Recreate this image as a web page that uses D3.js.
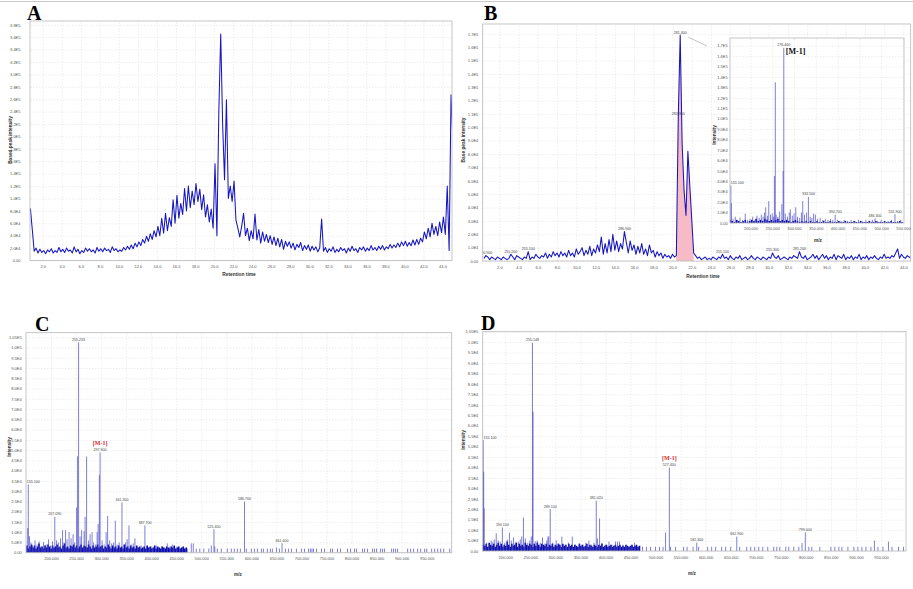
<!DOCTYPE html>
<html>
<head>
<meta charset="utf-8">
<script src="https://cdn.jsdelivr.net/npm/d3@7"></script>
<style>
body { margin: 0; background: #fff; }
svg { display: block; }
.axis text { font-family: "Liberation Sans", Arial, sans-serif; font-size: 4px; fill: #555; }
.axis line { stroke: none; }
.grid line { stroke: #dcdcdc; stroke-width: 0.5; stroke-dasharray: 1.5 1.5; }
.axis-title { font-family: "Liberation Sans", Arial, sans-serif; font-size: 4.8px; font-weight: bold; fill: #333; }
.peak-label { font-family: "Liberation Sans", Arial, sans-serif; font-size: 3.6px; fill: #444; }
.mark-label { font-family: "Liberation Serif", "Times New Roman", serif; font-size: 6px; font-weight: bold; fill: #d42a2a; }
.panel-letter { font-family: "Liberation Serif", "Times New Roman", serif; font-size: 20px; font-weight: bold; fill: #000; }
.trace { fill: none; stroke: #1616c0; stroke-width: 1.05; stroke-linejoin: round; }
.stick { stroke: #3535c0; stroke-width: 0.8; stroke-opacity: 0.8; }
.noise { stroke: #0c0caa; stroke-width: 1.6; }
</style>
</head>
<body>
<div id="chart"></div>
<script>
// ---------- data ----------

// A: base peak chromatogram, one sample every 0.2 min from 0.7 min (intensity x1e4)
var chromAStart = 0.7, chromAStep = 0.2;
var chromA = [
  8.4,5.0,1.5,2.0,1.2,1.8,1.3,1.6,1.1,1.7,
  1.4,1.9,1.2,1.6,1.3,2.1,1.4,1.8,1.3,2.0,
  1.5,1.7,1.2,2.2,1.4,1.8,1.1,1.6,1.3,2.0,
  1.5,1.9,1.4,1.7,1.2,2.1,1.5,1.9,1.4,2.0,
  1.6,1.8,1.3,2.2,1.6,1.9,1.4,1.7,1.5,2.1,
  1.7,2.3,1.8,2.5,1.9,2.8,2.2,3.0,2.4,3.4,
  2.8,3.9,3.1,4.3,3.4,4.8,3.8,5.5,4.0,6.8,
  4.4,7.6,4.8,6.9,5.5,9.8,6.0,10.5,6.8,9.2,
  7.4,11.6,8.0,12.0,8.5,11.2,9.0,12.4,9.5,11.5,
  8.2,10.6,7.0,9.0,6.2,8.3,5.2,15.6,4.0,24.0,
  36.5,22.0,13.0,25.9,10.0,12.0,9.5,12.8,6.5,5.2,
  3.8,5.5,7.6,4.0,5.2,3.2,4.8,3.5,7.5,3.3,
  5.0,2.8,4.6,3.1,4.2,2.9,4.0,2.6,3.8,2.4,
  3.6,2.2,3.4,1.8,3.1,2.3,3.0,2.0,2.8,1.7,
  2.6,2.1,2.9,1.6,2.4,1.8,2.5,1.5,2.3,1.7,
  2.2,1.4,2.0,6.7,1.5,2.1,1.3,1.9,1.5,2.2,
  1.3,1.8,1.4,2.1,1.6,1.9,1.2,2.0,1.5,2.3,
  1.6,1.9,1.3,2.1,1.7,2.2,1.5,2.0,1.6,2.4,
  1.7,2.1,1.6,2.3,1.8,2.4,1.7,2.2,1.9,2.6,
  2.0,2.5,2.1,2.8,2.2,3.0,2.4,3.1,2.3,2.9,
  2.4,3.3,2.5,3.4,2.6,3.6,3.0,4.6,3.5,5.2,
  3.8,6.0,4.2,5.5,4.0,6.2,4.5,7.0,4.2,12.0,
  1.6,26.7,19.0
];

// B: base peak chromatogram, one sample every 0.2 min from 0.4 min (intensity x1e4)
var chromBStart = 0.4, chromBStep = 0.2;
var chromB = [
  0.2,0.4,0.3,0.1,0.3,0.2,0.1,0.3,0.2,0.1,
  0.3,0.2,0.1,0.2,0.5,0.3,0.1,0.4,0.3,0.2,
  0.1,0.3,0.2,0.7,0.1,0.3,0.2,0.5,0.3,0.2,
  0.4,0.3,0.6,0.2,0.5,0.3,0.7,0.4,0.6,0.3,
  0.7,0.4,0.6,0.3,0.8,0.4,0.6,0.3,0.9,0.5,
  0.7,1.0,0.4,0.8,0.5,1.1,0.4,0.9,0.6,1.2,
  0.7,1.8,0.5,1.3,0.6,1.6,0.7,2.0,0.8,1.5,
  0.7,1.3,0.9,2.2,1.4,0.6,1.5,0.8,1.2,0.5,
  1.1,0.6,1.3,0.5,0.9,0.4,1.2,0.6,0.8,0.3,
  0.7,0.4,0.6,0.2,0.5,0.3,0.4,0.2,0.5,0.3,
  0.4,10.8,16.9,8.8,5.3,3.4,8.2,5.6,3.1,0.6,
  0.4,0.2,0.3,0.1,0.2,0.3,0.1,0.2,0.1,0.3,
  0.2,0.1,0.3,0.2,0.5,0.2,0.3,0.1,0.4,0.2,
  0.1,0.3,0.2,0.4,0.1,0.2,0.3,0.1,0.2,0.4,
  0.2,0.1,0.3,0.2,0.1,0.3,0.2,0.1,0.3,0.2,
  0.6,0.3,0.2,0.4,0.1,0.2,0.3,0.2,0.1,0.3,
  0.2,0.4,0.3,0.2,0.7,0.3,0.2,0.4,0.1,0.2,
  0.3,0.5,0.2,0.4,0.1,0.3,0.5,0.2,0.4,0.1,
  0.3,0.2,0.5,0.1,0.4,0.3,0.2,0.5,0.1,0.3,
  0.2,0.4,0.1,0.3,0.2,0.5,0.1,0.3,0.2,0.4,
  0.1,0.3,0.2,0.4,0.2,0.1,0.3,0.2,0.5,0.2,
  0.3,0.2,0.4,0.3,0.6,0.9,0.2,0.5,0.3,0.2,
  0.4,0.3,0.2
];
// integrated (highlighted) window of the main peak, min
var peakWindowB = [20.4, 22.2];
// labelled peaks of B: [time, m/z label]
var labelsB = [
  [0.6, "190.900"], [3.2, "255.200"], [5.0, "255.100"], [15.0, "286.900"],
  [20.8, "281.300"], [20.6, "283.300"], [25.2, "255.100"], [30.4, "255.300"], [33.2, "281.200"]
];

// B inset: mass spectrum of the main peak [m/z, intensity x1e4]
var peaksInset = [
  [155,3.6],[156,1.9],[160,0.4],[165,0.6],[170,0.3],[176,0.5],[182,0.3],[188,0.9],[193,0.3],[199,0.4],
  [205,0.6],[210,0.3],[215,0.7],[220,0.5],[225,0.8],[229,0.6],[232,1.0],[235,1.5],[239,0.7],[242,2.1],
  [246,0.8],[250,0.9],[253,0.6],[255,4.5],[257,13.5],[259,0.8],[263,0.6],[267,1.1],[272,1.8],[275,5.0],
  [276.5,16.8],[280,0.9],[285,0.6],[289,1.0],[291.5,1.3],[296,0.7],[300,0.9],[304,1.5],[308,0.6],[313,0.5],
  [317,1.0],[320,2.1],[324,0.8],[329,1.0],[333,2.5],[337,0.6],[341,0.5],[345,0.9],[349,0.8],[354,0.4],
  [360,0.5],[366,0.3],[372,0.4],[378,0.3],[384,0.4],[389,0.3],[394.5,0.8],[400,0.3],[408,0.2],[415,0.3],
  [423,0.2],[431,0.3],[440,0.2],[448,0.3],[456,0.2],[465,0.3],[472,0.2],[480,0.3],[486,0.45],[492,0.2],
  [500,0.3],[508,0.2],[516,0.2],[524,0.3],[531.7,0.85],[538,0.2],[545,0.3]
];
// low level signal of the inset, every 5 m/z from 153 (x1e4)
var noiseInsetStart = 153, noiseInsetStep = 5;
var noiseInset = [
  0.3,0.2,0.1,0.3,0.2,0.1,0.2,0.3,0.1,0.2,
  0.3,0.2,0.4,0.2,0.3,0.2,0.4,0.3,0.2,0.3,
  0.2,0.3,0.4,0.2,0.3,0.2,0.3,0.2,0.1,0.2,
  0.3,0.2,0.1,0.2,0.1,0.2,0.1,0.2,0.1,0.1,
  0.2,0.1,0.1,0.2,0.1,0.1,0.2,0.1,0.1,0.1,
  0.2,0.1,0.1,0.2,0.1,0.1,0.1,0.2,0.1,0.1,
  0.2,0.1,0.1,0.1,0.2,0.1,0.1,0.2,0.1,0.1,
  0.1,0.2,0.1,0.1,0.2,0.1,0.1,0.1,0.2,0.1
];
var labelsInset = [[155,"155.100"],[276.5,"276.400"],[333,"333.500"],[394.5,"394.700"],[486,"486.300"],[531.7,"531.900"]];
var markInset = [276.5, "[M-1]"];

// C: mass spectrum [m/z, intensity x1e3]
var peaksC = [
  [153.5,12],[154.6,33.3],[157,8],[160,5],[163,3.5],[168,6],[172,4],[176,5.5],[180,3],[185,5.2],
  [190,4],[195,6.5],[199,3.5],[203,5.5],[207.5,17.5],[211,6],[215,5],[219,7],[223,11],[226,5],
  [229,11],[232,6.5],[236,10],[240,7],[244,9],[247,5],[251,22],[253,47],[255,102.5],[258,8],
  [261,11],[266,10.5],[268,17.5],[271,46.8],[275,6],[278,9],[282,10],[285,5],[289,4],[292,10],
  [294,14],[296.5,37.8],[297.9,48.9],[302,6],[306,4],[310,10],[313,17.9],[317,6],[321,4.5],[325,5],
  [328.3,15.6],[332,4],[336,5],[341.6,24.5],[345,4],[349,5],[352,6.5],[355.6,13.3],[360,4],[364,4.5],
  [367.5,7],[372,3],[376,2.5],[380,3.5],[387.4,13.3],[391,3],[395,2],[400,3],[405,2.5],[410,3.5],
  [415,2],[421,3],[426,2.5],[432,4.5],[437,3],[442,4],[447,2],[452,3],[458,2],[463,2.5],
  [472,2],[480,4.5],[484,4.5],[490,2],[497,2],[505,2],[515,2],[520,3.5],[525.3,11.4],[527,3],
  [532,2],[540,2],[552,2],[560,2],[566,2],[572,2],[578,2],[586.3,24.9],[590,2],[600,2],
  [606,2],[612,2],[620,2],[624,2],[632,2],[638,2],[642,2],[650,2.5],[656,2],[661.3,4.6],
  [668,2],[674,2],[680,2],[690,2],[700,2],[706,2],[714,2],[718,2],[721,2],[724,2],
  [730,2],[740,2],[746,2],[758,2],[762,2],[772,2],[778,2],[792,2],[798,2],[806,2],
  [810,2],[822,2],[826,2],[832,2],[842,2],[846,2],[850,2],[858,2],[862,2],[866,2],
  [880,2],[884,2],[888,2],[892,2],[912,2],[918,2],[924,2],[932,2],[938,2],[946,2],
  [950,2],[960,2],[966,2],[972,2],[978,2],[984,2],[996,2]
];
var noiseCStart = 152, noiseCStep = 3;
var noiseC = [
  3.5,2.0,3.0,4.0,2.5,3.5,2.0,3.0,4.5,2.5,
  3.0,2.0,3.5,2.5,4.0,3.0,2.0,3.5,2.5,3.0,
  4.0,2.5,3.0,2.0,3.5,4.5,2.5,3.0,2.0,3.5,
  3.0,4.0,2.5,3.5,2.0,3.0,4.0,2.5,3.5,3.0,
  2.5,4.0,3.0,2.0,3.5,2.5,3.0,4.0,2.5,3.0,
  3.5,2.0,3.0,2.5,4.0,3.0,2.0,3.5,2.5,3.0,
  2.0,3.5,2.5,3.0,2.0,4.0,2.5,3.0,2.0,3.5,
  2.5,3.0,2.0,3.5,2.5,3.0,2.0,2.5,3.0,2.0,
  3.5,2.5,3.0,2.0,2.5,3.5,2.0,3.0,2.5,2.0,
  3.0,2.5,2.0,3.0,2.5,2.0,3.0,2.5,3.5,2.0,
  2.5,3.0,2.0,2.5,3.0,2.0,2.5
];
var labelsC = [[154.6,"155.100"],[207.5,"207.090"],[255,"255.233"],[297.9,"297.900"],[341.6,"341.300"],
  [387.4,"387.700"],[525.3,"525.400"],[586.3,"586.700"],[661.3,"661.600"]];
var markC = [297.9, "[M-1]"];

// D: mass spectrum [m/z, intensity x1e3]
var peaksD = [
  [156,53.1],[157,38],[158,20.4],[163,4],[168,3.5],[172,5],[175,4.2],[178,5.5],[182,8.5],[186,5],
  [190,4.5],[194.3,11.3],[199,4],[204,5.5],[208.4,8.8],[212,5],[216.4,6.5],[220,4],[226,4.5],[230,5.5],
  [233,7],[236.4,16],[240,6],[245,4],[249,5],[252,7],[254.4,99.7],[255.5,66.7],[259.8,4.7],[264,5],
  [270,4],[274.4,6.5],[279,3.5],[283,5],[285.2,6.9],[287,7],[289.8,20],[295,4],[301.8,5],[307,3.5],
  [313,6.9],[320,3],[326,4],[333.8,6.9],[340,3],[348,3.5],[355,3],[361,4],[367,5],[372,3],
  [377,4],[381.7,24.1],[384,6],[388.3,15.6],[393,4],[400,3],[407,4.5],[413,3],[420,4.5],[424,4.5],
  [428,4.5],[435,3],[443,2.5],[450,2],[458.2,4],[466,2],[474,2],[482,2],[490,2],[500,2],
  [508,2],[515,2],[520,8.8],[527.6,39.9],[530,2],[540,2],[556,2],[563,2],[575,2],[582.3,4.0],
  [586,2],[604,2],[612,2],[620,2],[632,2],[640,2],[650,2],[662.2,6.9],[668,2],[682,2],
  [690,2],[698,2],[706,2],[714,2],[724,2],[736,2],[742,2],[748,2],[760,2],[766,2],
  [776,2],[786,2],[792.5,3.8],[799,8.9],[806,2],[812,2],[828,2],[850,2],[858,2],[866,2],
  [872,2],[884,2],[896,2],[904,2],[912,2],[920,2],[930,2],[937,5],[944,2],[954,2],
  [965,4.5],[972,2],[985,2],[995,2]
];
var noiseDStart = 156, noiseDStep = 3;
var noiseD = [
  3.0,2.5,3.5,2.0,4.0,3.0,2.5,3.5,2.0,3.0,
  4.0,2.5,3.5,2.0,3.0,2.5,4.5,3.0,2.0,3.5,
  2.5,3.0,4.0,2.0,3.5,2.5,3.0,2.0,4.0,3.0,
  2.5,3.5,3.0,2.0,3.5,2.5,4.0,3.0,2.0,3.5,
  3.0,2.5,3.5,2.0,3.0,2.5,3.5,2.0,3.0,2.5,
  3.5,3.0,2.0,3.5,2.5,3.0,2.0,3.5,2.5,3.0,
  2.0,3.0,2.5,2.0,3.5,2.5,3.0,2.0,2.5,3.5,
  2.0,3.0,2.5,2.0,3.0,2.5,2.0,3.0,2.5,3.5,
  2.0,2.5,3.0,2.0,2.5,3.0,2.0,2.5,3.0,2.0,
  2.5,3.0,2.0,2.5,2.0,3.0,2.5,2.0,2.5,3.0,
  2.0,2.5,3.0,2.0,2.5
];
var labelsD = [[156,"155.100"],[194.3,"194.100"],[254.4,"255.148"],[289.8,"289.100"],[381.7,"381.020"],
  [527.6,"527.400"],[582.3,"582.300"],[662.2,"662.900"],[799,"799.000"]];
var markD = [527.6, "[M-1]"];

// tick values
var ticksTime = [2,4,6,8,10,12,14,16,18,20,22,24,26,28,30,32,34,36,38,40,42,44];
var ticksA = [0,2,4,6,8,10,12,14,16,18,20,22,24,26,28,30,32,34,36,38];          // x1e4
var ticksB = [0,1,2,3,4,5,6,7,8,9,10,11,12,13,14,15,16,17];                     // x1e4
var ticksMz = [200,250,300,350,400,450,500,550,600,650,700,750,800,850,900,950];
var ticksMzInset = [200,250,300,350,400,450,500,550];
var ticksMs = [0,5,10,15,20,25,30,35,40,45,50,55,60,65,70,75,80,85,90,95,100,105]; // x1e3

// ---------- drawing ----------
var svgWidth = 913, svgHeight = 589;
var svg = d3.select("#chart").append("svg")
    .attr("width", svgWidth)
    .attr("height", svgHeight);

svg.append("line")
    .attr("x1", 0).attr("x2", svgWidth).attr("y1", 1.5).attr("y2", 1.5)
    .attr("stroke", "#c8c8c8").attr("stroke-width", 1.2);

// scientific labels like 2.0E4, 1.05E5
function fmtE(v) {
    if (v === 0) return "0.00";
    var e = Math.floor(Math.log10(v) + 1e-9);
    var m = v / Math.pow(10, e);
    var s = m.toFixed(2);
    if (s.slice(-1) === "0") s = m.toFixed(1);
    return s + "E" + e;
}

function makePanel(cfg) {
    var g = svg.append("g");
    var x = d3.scaleLinear().domain(cfg.xDomain).range([cfg.left, cfg.right]);
    var y = d3.scaleLinear().domain(cfg.yDomain).range([cfg.bottom, cfg.top]);
    var w = cfg.right - cfg.left, h = cfg.bottom - cfg.top;

    if (cfg.background) {
        g.append("rect").attr("x", cfg.left).attr("y", cfg.top)
            .attr("width", w).attr("height", h).attr("fill", "#fff");
    }

    // dotted grid
    g.append("g").attr("class", "grid")
        .attr("transform", `translate(0, ${cfg.bottom})`)
        .call(d3.axisBottom(x).tickValues(cfg.xTicks).tickSize(-h).tickFormat(""))
        .call(s => s.select(".domain").remove());
    g.append("g").attr("class", "grid")
        .attr("transform", `translate(${cfg.left}, 0)`)
        .call(d3.axisLeft(y).tickValues(cfg.yTicks).tickSize(-w).tickFormat(""))
        .call(s => s.select(".domain").remove());

    // tick labels
    g.append("g").attr("class", "axis")
        .attr("transform", `translate(0, ${cfg.bottom})`)
        .call(d3.axisBottom(x).tickValues(cfg.xTicks).tickFormat(cfg.xFormat).tickSize(0).tickPadding(cfg.xPad))
        .call(s => s.select(".domain").remove());
    g.append("g").attr("class", "axis")
        .attr("transform", `translate(${cfg.left}, 0)`)
        .call(d3.axisLeft(y).tickValues(cfg.yTicks).tickFormat(d => fmtE(d * cfg.unit)).tickSize(0).tickPadding(cfg.yPad))
        .call(s => s.select(".domain").remove());

    // axis titles
    g.append("text").attr("class", "axis-title")
        .attr("x", cfg.xTitle[1]).attr("y", cfg.xTitle[2])
        .attr("text-anchor", "middle").text(cfg.xTitle[0]);
    g.append("text").attr("class", "axis-title")
        .attr("transform", `translate(${cfg.yTitle[1]}, ${cfg.yTitle[2]}) rotate(-90)`)
        .attr("text-anchor", "middle").text(cfg.yTitle[0]);

    var clipId = "clip-" + cfg.name;
    svg.append("clipPath").attr("id", clipId).append("rect")
        .attr("x", cfg.left).attr("y", cfg.top).attr("width", w).attr("height", h);
    var plot = g.append("g").attr("clip-path", `url(#${clipId})`);

    // frame drawn last so it sits on top of the data
    var frame = g.append("rect").attr("x", cfg.left).attr("y", cfg.top)
        .attr("width", w).attr("height", h)
        .attr("fill", "none").attr("stroke", "#b8b8b8").attr("stroke-width", 0.8);

    if (cfg.letter) {
        svg.append("text").attr("class", "panel-letter")
            .attr("x", cfg.letter[1]).attr("y", cfg.letter[2]).text(cfg.letter[0]);
    }
    return { x: x, y: y, plot: plot, g: g, frame: frame };
}

function series(values, start, step) {
    return values.map((v, i) => ({ t: start + i * step, v: v }));
}

function drawSticks(p, data, cls) {
    p.plot.append("g").selectAll("line")
        .data(data)
        .join("line")
        .attr("class", cls)
        .attr("x1", d => p.x(d[0])).attr("x2", d => p.x(d[0]))
        .attr("y1", p.y(0)).attr("y2", d => p.y(d[1]));
}

// peak labels sit above their stick; ones that would run past the left frame start at it
function drawPeakLabels(p, labels, peaks) {
    var lookup = new Map(peaks.map(d => [d[0], d[1]]));
    var x0 = p.x.range()[0];
    var nearEdge = d => p.x(d[0]) - 7 < x0;
    p.plot.append("g").selectAll("text")
        .data(labels)
        .join("text")
        .attr("class", "peak-label")
        .attr("text-anchor", d => nearEdge(d) ? "start" : "middle")
        .attr("x", d => nearEdge(d) ? x0 + 0.8 : p.x(d[0]))
        .attr("y", d => p.y(lookup.get(d[0])) - 1.5)
        .text(d => d[1]);
}

function drawMark(p, mark, peaks, offset) {
    var v = peaks.find(d => d[0] === mark[0])[1];
    p.plot.append("text")
        .attr("class", "mark-label")
        .attr("text-anchor", "middle")
        .attr("x", p.x(mark[0]))
        .attr("y", p.y(v) - offset)
        .text(mark[1]);
}

var line = (p) => d3.line().x(d => p.x(d.t)).y(d => p.y(d.v));

// ----- A -----
var pA = makePanel({
    name: "A", left: 30, right: 452, top: 21, bottom: 260.5,
    xDomain: [0.66, 45.0], yDomain: [0, 38.6], unit: 1e4,
    xTicks: ticksTime, yTicks: ticksA, xFormat: d => d.toFixed(1),
    xPad: 4.2, yPad: 9.5,
    xTitle: ["Retention time", 239, 275.5], yTitle: ["Based peak intensity", 12, 140],
    letter: ["A", 27, 20]
});
pA.plot.append("path").datum(series(chromA, chromAStart, chromAStep))
    .attr("class", "trace").attr("d", line(pA));

// ----- B -----
var pB = makePanel({
    name: "B", left: 482.7, right: 910.7, top: 24, bottom: 261,
    xDomain: [0.27, 44.76], yDomain: [0, 17.73], unit: 1e4,
    xTicks: ticksTime, yTicks: ticksB, xFormat: d => d.toFixed(1),
    xPad: 5, yPad: 4.4,
    xTitle: ["Retention time", 703, 277.5], yTitle: ["Base peak intensity", 465, 140],
    letter: ["B", 484, 20]
});
var dataB = series(chromB, chromBStart, chromBStep);
pB.plot.append("path")
    .datum(dataB.filter(d => d.t >= peakWindowB[0] - 1e-6 && d.t <= peakWindowB[1] + 1e-6))
    .attr("fill", "#f6b4c0").attr("fill-opacity", 0.9)
    .attr("d", d3.area().x(d => pB.x(d.t)).y0(pB.y(0)).y1(d => pB.y(d.v)));
pB.plot.append("path").datum(dataB).attr("class", "trace").attr("d", line(pB));
pB.plot.append("g").selectAll("text")
    .data(labelsB)
    .join("text")
    .attr("class", "peak-label")
    .attr("text-anchor", "middle")
    .attr("x", d => pB.x(d[0]))
    .attr("y", d => pB.y(chromB[Math.round((d[0] - chromBStart) / chromBStep)]) - 1.5)
    .text(d => d[1]);

// ----- B inset -----
var pI = makePanel({
    name: "inset", left: 730, right: 904, top: 38, bottom: 223, background: true,
    xDomain: [153, 552.5], yDomain: [0, 17.74], unit: 1e4,
    xTicks: ticksMzInset, yTicks: ticksB, xFormat: d => d.toFixed(3),
    xPad: 4.5, yPad: 2.3,
    xTitle: ["m/z", 818, 242], yTitle: ["Intensity", 715.5, 135]
});
drawSticks(pI, series(noiseInset, noiseInsetStart, noiseInsetStep).map(d => [d.t, d.v]), "noise");
drawSticks(pI, peaksInset, "stick");
drawPeakLabels(pI, labelsInset, peaksInset);
var mainI = peaksInset.find(d => d[0] === markInset[0]);
pI.plot.append("text")
    .attr("x", pI.x(mainI[0]) + 2).attr("y", pI.y(mainI[1]) + 6)
    .attr("font-family", "Liberation Serif, Times New Roman, serif")
    .attr("font-size", 8).attr("font-weight", "bold").attr("fill", "#111")
    .text(markInset[1]);

// connector from the chromatogram apex to the inset
var apexB = dataB.reduce((a, b) => (b.v > a.v ? b : a));
svg.append("line")
    .attr("x1", pB.x(apexB.t) + 8).attr("y1", pB.y(apexB.v) + 2)
    .attr("x2", pI.x(153) - 23).attr("y2", pI.y(17.74) + 8)
    .attr("stroke", "#999").attr("stroke-width", 0.6);

// ----- C -----
var pC = makePanel({
    name: "C", left: 26, right: 451.7, top: 332.7, bottom: 552.7,
    xDomain: [150, 1000], yDomain: [0, 107.2], unit: 1e3,
    xTicks: ticksMz, yTicks: ticksMs, xFormat: d => d.toFixed(3),
    xPad: 4.8, yPad: 4.3,
    xTitle: ["m/z", 238, 575.5], yTitle: ["Intensity", 11, 447],
    letter: ["C", 35, 331]
});
drawSticks(pC, series(noiseC, noiseCStart, noiseCStep).map(d => [d.t, d.v]), "noise");
drawSticks(pC, peaksC, "stick");
drawPeakLabels(pC, labelsC, peaksC);
drawMark(pC, markC, peaksC, 7.5);

// ----- D -----
var pD = makePanel({
    name: "D", left: 482.7, right: 906, top: 331.7, bottom: 551,
    xDomain: [155, 1000], yDomain: [0, 105], unit: 1e3,
    xTicks: ticksMz, yTicks: ticksMs, xFormat: d => d.toFixed(3),
    xPad: 4.8, yPad: 4.4,
    xTitle: ["m/z", 692, 574.5], yTitle: ["Intensity", 464.5, 440],
    letter: ["D", 481, 330]
});
drawSticks(pD, series(noiseD, noiseDStart, noiseDStep).map(d => [d.t, d.v]), "noise");
drawSticks(pD, peaksD, "stick");
drawPeakLabels(pD, labelsD, peaksD);
drawMark(pD, markD, peaksD, 7.5);
</script>
</body>
</html>
